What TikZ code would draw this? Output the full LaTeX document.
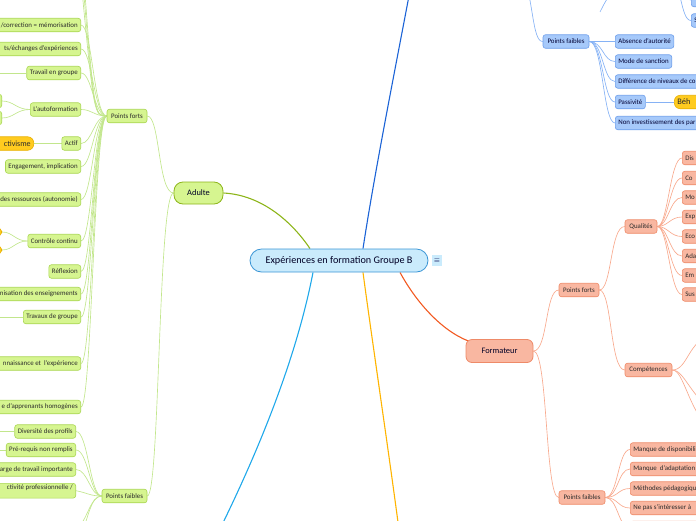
\documentclass[tikz,border=0pt]{standalone}
\usepackage{fontspec}
\setmainfont{Carlito}
\usetikzlibrary{backgrounds}
\definecolor{gfill}{HTML}{D6F590}
\definecolor{gline}{HTML}{A9D651}
\definecolor{gcon}{HTML}{C2E68C}
\definecolor{gmain}{HTML}{8DB51A}
\definecolor{bfill}{HTML}{A6C9FA}
\definecolor{bline}{HTML}{6D9EEB}
\definecolor{bcon}{HTML}{86B2F5}
\definecolor{bmain}{HTML}{1B63D6}
\definecolor{ofill}{HTML}{F9B7A1}
\definecolor{oline}{HTML}{EE8A68}
\definecolor{ocon}{HTML}{F8A98D}
\definecolor{omain}{HTML}{F25A22}
\definecolor{yfill}{HTML}{FFCB1F}
\definecolor{yline}{HTML}{E8B000}
\definecolor{ymain}{HTML}{FFB400}
\definecolor{lbmain}{HTML}{1FA8EA}
\definecolor{cfill}{HTML}{CAEBFC}
\definecolor{cline}{HTML}{3A95D5}
\definecolor{txt}{HTML}{2B2B2B}
\newcommand{\padl}{\hspace*{40pt}}
\begin{document}
\begin{tikzpicture}[x=1pt,y=-1pt,
  lf/.style={draw, rounded corners=2.5pt, font=\fontsize{6.9}{7.9}\selectfont, minimum height=13.5pt, inner xsep=3pt, inner ysep=1pt, text=txt, line width=0.6pt},
  gl/.style={lf, fill=gfill, draw=gline},
  bl/.style={lf, fill=bfill, draw=bline, text=black!80!blue},
  ol/.style={lf, fill=ofill, draw=oline},
  yl/.style={lf, fill=yfill, draw=yline, rounded corners=6pt, font=\fontsize{8}{9}\selectfont},
  gc/.style={draw=gcon, line width=0.65pt},
  bc/.style={draw=bcon, line width=0.65pt},
  oc/.style={draw=ocon, line width=0.65pt},
  main/.style={line width=1.1pt}
]
\useasboundingbox (0,0) rectangle (696,520);
\clip (0,0) rectangle (696,520);

% central
\node[draw=cline, fill=cfill, line width=0.8pt, rounded corners=11.5pt, minimum width=178pt, minimum height=23pt, font=\fontsize{10.2}{11}\selectfont, text=black!85!blue] (c) at (339,260.5) {Expériences en formation Groupe B};
\node[fill=cfill, minimum width=10pt, minimum height=11pt, inner sep=0pt, font=\fontsize{7}{7}\selectfont, text=black!70!blue] (menu) at (437,260.5) {$\equiv$};

% Adulte branch
\node[draw=gmain, fill=gfill, line width=0.8pt, rounded corners=9pt, minimum width=49pt, minimum height=22pt, font=\fontsize{8.4}{9}\selectfont, text=black!85!blue] (a) at (198.5,193) {Adulte};
\node[gl, minimum width=40pt] (apf) at (127,116) {Points forts};
\node[gl, minimum width=45pt] (apw) at (124.5,496) {Points faibles};

% Adulte strengths
\coordinate (ao1) at (81,-60);
\coordinate (ao2) at (81,-40);
\coordinate (ao3) at (81,-20);
\node[gl, anchor=east] (g1) at (81,25) {\padl/correction = mémorisation};
\node[gl, anchor=east] (g2) at (81,49) {\padl ts/échanges d'expériences};
\node[gl, anchor=east] (g3) at (81,73) {Travail en groupe};
\node[gl, anchor=east] (g4) at (81,109.5) {L'autoformation};
\node[gl, anchor=east] (g5) at (81,143.5) {Actif};
\node[gl, anchor=east] (g6) at (81,166.5) {Engagement, implication};
\node[gl, anchor=east] (g7) at (81,199.5) {\padl des ressources (autonomie)};
\node[gl, anchor=east] (g8) at (81,241) {Contrôle continu};
\node[gl, anchor=east] (g9) at (81,271.5) {Réflexion};
\node[gl, anchor=east] (g10) at (81,294) {\padl nisation des enseignements};
\node[gl, anchor=east] (g11) at (81,317) {Travaux de groupe};
\node[gl, anchor=east] (g12) at (81,363.5) {\padl nnaissance et \ l'expérience};
\node[gl, anchor=east] (g13) at (81,407) {\padl e d'apprenants homogènes};
% grandchildren
\coordinate (g3c) at (-10,73);
\node[gl, anchor=east, minimum width=30pt] (g4a) at (2,101) {};
\node[gl, anchor=east, minimum width=30pt] (g4b) at (2,118) {};
\node[yl, anchor=east] (g5a) at (34,143.5) {\padl ctivisme};
\node[yl, anchor=east, minimum width=30pt, minimum height=10pt] (g8a) at (2,232) {};
\node[yl, anchor=east, minimum width=30pt, minimum height=10pt] (g8b) at (2,250) {};
\coordinate (g11c) at (-10,317);

% Adulte weaknesses
\node[gl, anchor=east] (w1) at (76,431.5) {Diversité des profils};
\node[gl, anchor=east] (w2) at (76,450) {Pré-requis non remplis};
\node[gl, anchor=east] (w3) at (76,469.5) {\padl arge de travail importante};
\node[gl, anchor=north east, text depth=8pt] (w4) at (76,483) {\padl ctivité professionnelle /};
\coordinate (w5) at (76,530);
\coordinate (w6) at (76,552);
\coordinate (w1c) at (-10,431.5);
\coordinate (w2c) at (-10,450);

% Blue (top) branch
\coordinate (bp) at (412,-20);
\coordinate (bq) at (520,-40);
\node[bl, minimum width=46pt] (bpw) at (566,41.5) {Points faibles};
\node[bl, anchor=west] (b1) at (615,41.5) {Absence d'autorité};
\node[bl, anchor=west] (b2) at (615,61.5) {Mode de sanction};
\node[bl, anchor=west] (b3) at (615,81.5) {Différence de niveaux de co\padl};
\node[bl, anchor=west] (b4) at (615,102) {Passivité};
\node[bl, anchor=west] (b5) at (615,123) {Non investissement des par\padl};
\node[yl, anchor=west, font=\fontsize{8.4}{9}\selectfont] (b4a) at (674,102) {Béh\padl};
\node[bl, anchor=west, minimum width=30pt] (t1) at (691,0) {};
\node[bl, anchor=west] (t2) at (691,20.5) {S\padl};
\coordinate (tp) at (668,-22);
\coordinate (sq1) at (600,12);
\coordinate (sq2) at (610,-6);

% Formateur branch
\node[draw=oline, fill=ofill, line width=0.8pt, rounded corners=6pt, minimum width=67pt, minimum height=23pt, font=\fontsize{8.4}{9}\selectfont, text=black!85!blue] (f) at (499.5,351) {Formateur};
\node[ol, minimum width=40pt] (fpf) at (579,290) {Points forts};
\node[ol, minimum width=46pt] (fpw) at (582,497.5) {Points faibles};
\node[ol, minimum width=32pt] (q) at (641,226.5) {Qualités};
\node[ol, minimum width=47pt] (comp) at (648.5,370) {Compétences};
\node[ol, anchor=west] (q1) at (682,158) {Dis\padl};
\node[ol, anchor=west] (q2) at (682,178) {Co\padl};
\node[ol, anchor=west] (q3) at (682,197.5) {Mo\padl};
\node[ol, anchor=west] (q4) at (682,217) {Exp\padl};
\node[ol, anchor=west] (q5) at (682,236.5) {Eco\padl};
\node[ol, anchor=west] (q6) at (682,256) {Ada\padl};
\node[ol, anchor=west] (q7) at (682,275.5) {Em\padl};
\node[ol, anchor=west] (q8) at (682,294.5) {Sus\padl};
\coordinate (k1) at (712,335);
\coordinate (k2) at (712,410);
\coordinate (k3) at (712,432);
\node[ol, anchor=west] (fw1) at (630,449.5) {Manque de disponibili\padl};
\node[ol, anchor=west] (fw2) at (630,469) {Manque \ d'adaptation\padl};
\node[ol, anchor=west] (fw3) at (630,488.5) {Méthodes pédagogiqu\padl};
\node[ol, anchor=west] (fw4) at (630,508) {Ne pas s'intéresser à\padl};
\node[ol, anchor=west, minimum width=100pt] (fw5) at (630,528) {};

% yellow and light-blue branches (off page)
\coordinate (yend) at (401,545);
\coordinate (lbend) at (212,545);

\begin{scope}[on background layer]
  % main branches
  \draw[main, draw=gmain] ([xshift=-29pt]c.north) .. controls (292,222) and (262,195) .. (a.east);
  \draw[main, draw=bmain] ([xshift=24pt]c.north) .. controls (375,170) and (395,70) .. (bp);
  \draw[main, draw=omain] ([xshift=61pt]c.south) .. controls (415,300) and (440,330) .. ([xshift=3pt,yshift=-2pt]f.north west);
  \draw[main, draw=ymain] ([xshift=24pt]c.south) .. controls (372,340) and (390,460) .. (yend);
  \draw[main, draw=lbmain] ([xshift=-26pt]c.south) .. controls (300,340) and (270,430) .. (lbend);

  % Adulte
  \draw[gc] (a.west) .. controls (158,193) and (160,116) .. (apf.east);
  \draw[gc] (a.west) .. controls (158,193) and (160,496) .. (apw.east);
  \foreach \n in {ao1,ao2,ao3} \draw[gc] (apf.west) .. controls (94,116) and (94,116) .. (\n);
  \foreach \n in {g1,g2,g3,g4,g5,g6,g7,g8,g9,g10,g11,g12,g13}
    \draw[gc] (apf.west) .. controls (94,116) and (92,0 |- \n.east) .. (\n.east);
  \draw[gc] (g3.west) -- (g3c);
  \draw[gc] (g4.west) .. controls (16,109.5) and (14,101) .. (g4a.east);
  \draw[gc] (g4.west) .. controls (16,109.5) and (14,118) .. (g4b.east);
  \draw[gc] (g5.west) -- (g5a.east);
  \draw[gc] (g8.west) .. controls (15,241) and (13,232) .. (g8a.east);
  \draw[gc] (g8.west) .. controls (15,241) and (13,250) .. (g8b.east);
  \draw[gc] (g11.west) -- (g11c);
  \foreach \n in {w1,w2,w3}
    \draw[gc] (apw.west) .. controls (90,496) and (88,0 |- \n.east) .. (\n.east);
  \draw[gc] (apw.west) .. controls (90,496) and (88,493) .. (w4.east);
  \foreach \n in {w5,w6} \draw[gc] (apw.west) .. controls (90,496) and (88,520) .. (\n);
  \draw[gc] (w1.west) -- (w1c);
  \draw[gc] (w2.west) -- (w2c);

  % Blue
  \draw[bc] (bq) .. controls (534,0) and (532,41.5) .. (bpw.west);
  \foreach \n in {b1,b2,b3,b4,b5}
    \draw[bc] (bpw.east) .. controls (603,41.5) and (603,0 |- \n.west) .. (\n.west);
  \draw[bc] (b4.east) -- (b4a.west);
  \draw[bc] (tp) .. controls (682,-22) and (680,0) .. (t1.west);
  \draw[bc] (tp) .. controls (682,-22) and (680,20.5) .. (t2.west);
  \draw[bc] (sq1) .. controls (604,4) .. (sq2);

  % Formateur
  \draw[oc] (f.east) .. controls (548,351) and (545,290) .. (fpf.west);
  \draw[oc] (f.east) .. controls (548,351) and (545,497.5) .. (fpw.west);
  \draw[oc] (fpf.east) .. controls (612,290) and (610,226.5) .. (q.west);
  \draw[oc] (fpf.east) .. controls (612,290) and (610,370) .. (comp.west);
  \foreach \n in {q1,q2,q3,q4,q5,q6,q7,q8}
    \draw[oc] (q.east) .. controls (668,226.5) and (670,0 |- \n.west) .. (\n.west);
  \draw[oc] (comp.east) .. controls (688,370) and (688,340) .. (k1);
  \draw[oc] (comp.east) .. controls (684,370) and (690,395) .. (k2);
  \draw[oc] (comp.east) .. controls (684,370) and (688,410) .. (k3);
  \foreach \n in {fw1,fw2,fw3,fw4,fw5}
    \draw[oc] (fpw.east) .. controls (618,497.5) and (618,0 |- \n.west) .. (\n.west);
\end{scope}
\end{tikzpicture}
\end{document}
